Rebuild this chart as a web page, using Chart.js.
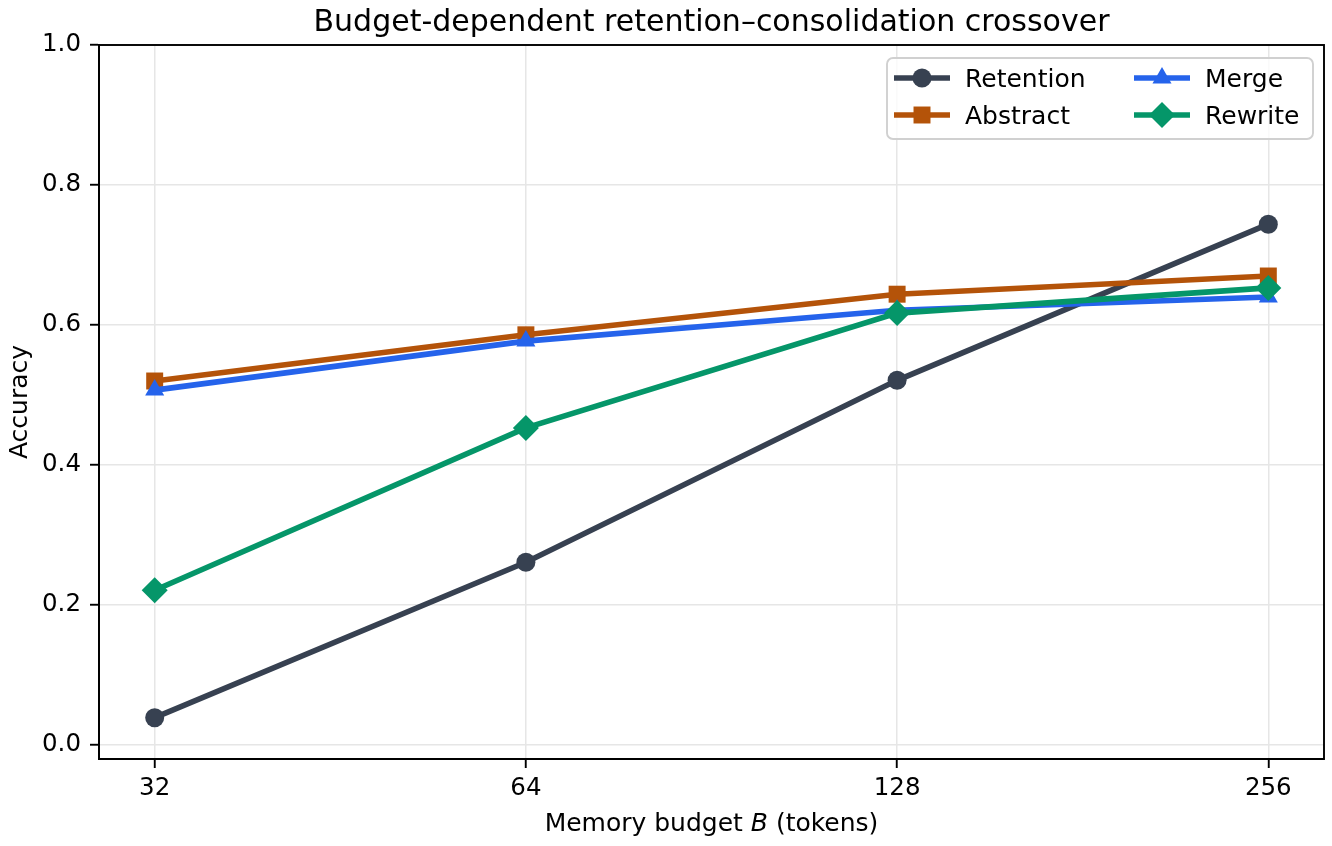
<!DOCTYPE html>
<html>
<head>
<meta charset="utf-8">
<script src="https://cdn.jsdelivr.net/npm/chart.js@4.4.1/dist/chart.umd.min.js"></script>
<style>
  html, body { margin: 0; padding: 0; background: #fff; }
  #wrap { width: 1332px; height: 846px; }
</style>
</head>
<body>
<div id="wrap"><canvas id="crossoverChart" width="1332" height="846"></canvas></div>
<script>
// data
const budgets = ['32', '64', '128', '256'];
const retention = [0.039, 0.261, 0.521, 0.744];
const abstractAcc = [0.520, 0.586, 0.644, 0.670];
const mergeAcc = [0.507, 0.577, 0.621, 0.640];
const rewriteAcc = [0.221, 0.453, 0.617, 0.653];
const yTicks = [0.0, 0.2, 0.4, 0.6, 0.8, 1.0];

const FONT = '"DejaVu Sans", sans-serif';
const LW = 5.6;

const series = [
  { label: 'Retention', values: retention, color: '#374151', style: 'circle', radius: 9.5 },
  { label: 'Abstract', values: abstractAcc, color: '#b45309', style: 'rect', radius: 12 },
  { label: 'Merge', values: mergeAcc, color: '#2563eb', style: 'triangle', radius: 11 },
  { label: 'Rewrite', values: rewriteAcc, color: '#059669', style: 'rectRot', radius: 13 }
];

// own marker drawing for the legend
function drawMarker(ctx, style, x, y, r) {
  ctx.beginPath();
  if (style === 'circle') {
    ctx.arc(x, y, r, 0, Math.PI * 2);
  } else if (style === 'rect') {
    const s = r * Math.SQRT1_2;
    ctx.rect(x - s, y - s, 2 * s, 2 * s);
  } else if (style === 'triangle') {
    for (let k = 0; k < 3; k++) {
      const a = k * 2 * Math.PI / 3;
      const px = x + Math.sin(a) * r, py = y - Math.cos(a) * r;
      if (k === 0) ctx.moveTo(px, py); else ctx.lineTo(px, py);
    }
    ctx.closePath();
  } else {
    ctx.moveTo(x - r, y); ctx.lineTo(x, y - r); ctx.lineTo(x + r, y); ctx.lineTo(x, y + r);
    ctx.closePath();
  }
  ctx.fill();
}

const decorations = {
  id: 'decorations',
  afterDraw(chart) {
    const ctx = chart.ctx;
    const a = chart.chartArea;
    ctx.save();

    // frame
    ctx.strokeStyle = '#000';
    ctx.lineWidth = 1.9;
    ctx.strokeRect(a.left, a.top, a.right - a.left, a.bottom - a.top);

    // title
    ctx.fillStyle = '#000';
    ctx.font = '30px ' + FONT;
    ctx.textAlign = 'center';
    ctx.textBaseline = 'alphabetic';
    ctx.fillText('Budget-dependent retention\u2013consolidation crossover', (a.left + a.right) / 2, 31);

    // x axis title with italic B
    ctx.font = '25px ' + FONT;
    const p1 = 'Memory budget ', p3 = ' (tokens)';
    const w1 = ctx.measureText(p1).width;
    const w3 = ctx.measureText(p3).width;
    ctx.font = 'italic 25px ' + FONT;
    const w2 = ctx.measureText('B').width;
    let x0 = (a.left + a.right) / 2 - (w1 + w2 + w3) / 2;
    ctx.textAlign = 'left';
    ctx.font = '25px ' + FONT;
    ctx.fillText(p1, x0, 831);
    ctx.font = 'italic 25px ' + FONT;
    ctx.fillText('B', x0 + w1, 831);
    ctx.font = '25px ' + FONT;
    ctx.fillText(p3, x0 + w1 + w2, 831);

    // y axis title
    ctx.save();
    ctx.translate(27, (a.top + a.bottom) / 2);
    ctx.rotate(-Math.PI / 2);
    ctx.textAlign = 'center';
    ctx.fillText('Accuracy', 0, 0);
    ctx.restore();

    // legend, two columns
    const bx = 887, by = 58, bw = 426, bh = 81, br = 6;
    ctx.beginPath();
    ctx.moveTo(bx + br, by);
    ctx.arcTo(bx + bw, by, bx + bw, by + bh, br);
    ctx.arcTo(bx + bw, by + bh, bx, by + bh, br);
    ctx.arcTo(bx, by + bh, bx, by, br);
    ctx.arcTo(bx, by, bx + bw, by, br);
    ctx.closePath();
    ctx.fillStyle = 'rgba(255,255,255,0.8)';
    ctx.fill();
    ctx.strokeStyle = '#d0d0d0';
    ctx.lineWidth = 1.9;
    ctx.stroke();

    const cols = [894, 1134];
    const rows = [78, 115];
    series.forEach((s, i) => {
      const cx = cols[Math.floor(i / 2)];
      const cy = rows[i % 2];
      ctx.strokeStyle = s.color;
      ctx.fillStyle = s.color;
      ctx.lineWidth = LW;
      ctx.beginPath();
      ctx.moveTo(cx, cy);
      ctx.lineTo(cx + 56, cy);
      ctx.stroke();
      drawMarker(ctx, s.style, cx + 28, cy, s.radius);
      ctx.fillStyle = '#000';
      ctx.font = '25px ' + FONT;
      ctx.textAlign = 'left';
      ctx.fillText(s.label, cx + 71, cy + 9);
    });

    ctx.restore();
  }
};

const ctx = document.getElementById('crossoverChart').getContext('2d');
const crossoverChart = new Chart(ctx, {
  type: 'line',
  data: {
    datasets: series.map((s, i) => ({
      label: s.label,
      data: s.values.map((v, k) => ({ x: k, y: v })),
      borderColor: s.color,
      backgroundColor: s.color,
      borderWidth: LW,
      pointStyle: s.style,
      pointRadius: s.radius,
      pointHoverRadius: s.radius,
      pointBorderWidth: 0,
      pointBackgroundColor: s.color,
      tension: 0,
      fill: false,
      order: series.length - i
    }))
  },
  options: {
    responsive: false,
    animation: false,
    devicePixelRatio: 1,
    layout: { autoPadding: false, padding: { top: 45, right: 8, left: 0, bottom: 0 } },
    plugins: {
      legend: { display: false },
      title: { display: false },
      tooltip: { enabled: false }
    },
    scales: {
      x: {
        type: 'linear',
        min: -0.15,
        max: 3.15,
        afterBuildTicks: function (scale) {
          scale.ticks = budgets.map((b, k) => ({ value: k }));
        },
        afterFit: function (scale) {
          scale.height = 87;
          scale.paddingLeft = 0;
          scale.paddingRight = 0;
        },
        ticks: {
          callback: function (value) { return budgets[value]; },
          color: '#000',
          font: { family: FONT, size: 24.5 },
          padding: 6,
          maxRotation: 0
        },
        grid: { color: '#e6e6e6', lineWidth: 1.5, tickColor: '#000', tickLength: 9, tickWidth: 1.9 },
        border: { display: true, color: '#000', width: 1.9 }
      },
      y: {
        type: 'linear',
        min: -0.02,
        max: 1.0,
        afterBuildTicks: function (scale) {
          scale.ticks = yTicks.map(v => ({ value: v }));
        },
        afterFit: function (scale) {
          scale.width = 99;
          scale.paddingTop = 0;
          scale.paddingBottom = 0;
        },
        ticks: {
          callback: function (value) { return value.toFixed(1); },
          color: '#000',
          font: { family: FONT, size: 24.5 },
          padding: 9
        },
        grid: { color: '#e6e6e6', lineWidth: 1.5, tickColor: '#000', tickLength: 9, tickWidth: 1.9 },
        border: { display: true, color: '#000', width: 1.9 }
      }
    }
  },
  plugins: [decorations]
});
</script>
</body>
</html>
